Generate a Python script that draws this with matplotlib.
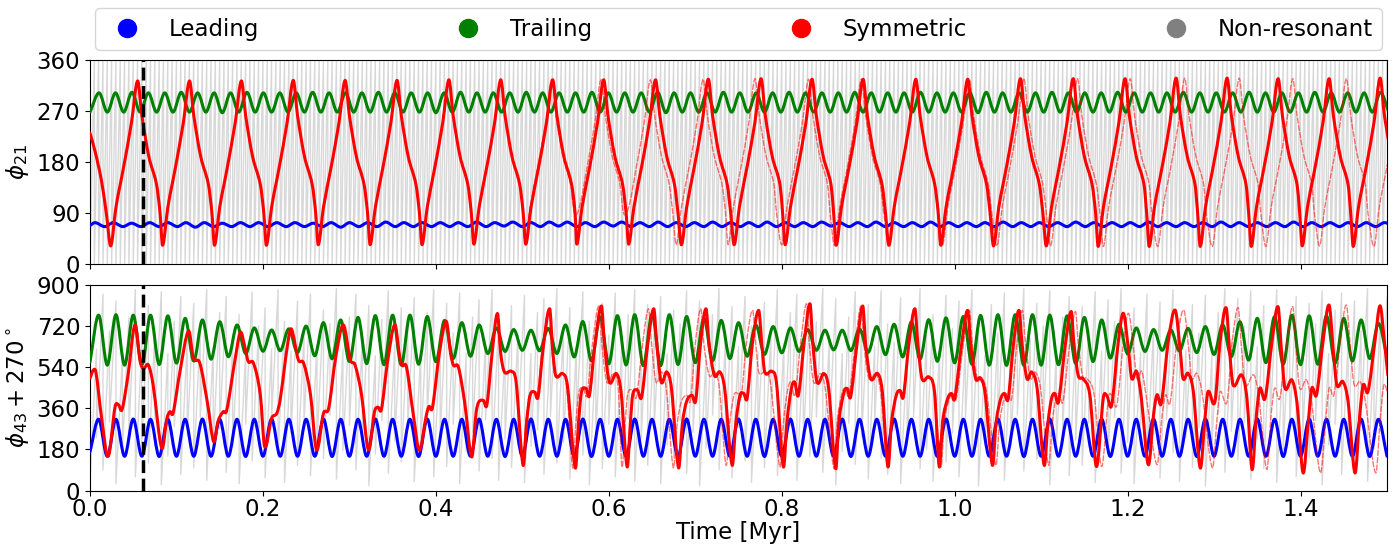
import numpy as np
import matplotlib.pyplot as plt
from matplotlib.lines import Line2D
from matplotlib.path import Path
from matplotlib.patches import PathPatch

plt.rcParams['font.size'] = 16.5

# ------------------------------------------------------------------
# phi_21 panel
# ------------------------------------------------------------------
# leading (blue): turning points of the small libration around ~70 deg
blue_top_t = [0.000, 0.006, 0.017, 0.027, 0.038, 0.048, 0.059, 0.069, 0.080, 0.090, 0.101, 0.111, 0.122, 0.132, 0.143,
              0.153, 0.164, 0.174, 0.185, 0.195, 0.206, 0.216, 0.227, 0.237, 0.248, 0.258, 0.269, 0.279, 0.290, 0.300,
              0.311, 0.321, 0.332, 0.342, 0.353, 0.363, 0.374, 0.384, 0.395, 0.405, 0.416, 0.426, 0.437, 0.447, 0.458,
              0.468, 0.479, 0.489, 0.500, 0.510, 0.521, 0.531, 0.542, 0.552, 0.563, 0.573, 0.584, 0.594, 0.605, 0.615,
              0.626, 0.636, 0.647, 0.657, 0.668, 0.678, 0.689, 0.699, 0.710, 0.720, 0.731, 0.741, 0.752, 0.762, 0.773,
              0.783, 0.794, 0.804, 0.815, 0.825, 0.836, 0.846, 0.857, 0.867, 0.878, 0.888, 0.899, 0.909, 0.920, 0.930,
              0.941, 0.951, 0.962, 0.972, 0.983, 0.993, 1.004, 1.014, 1.025, 1.035, 1.046, 1.056, 1.067, 1.077, 1.088,
              1.098, 1.109, 1.119, 1.130, 1.140, 1.151, 1.161, 1.172, 1.182, 1.193, 1.203, 1.214, 1.224, 1.235, 1.245,
              1.256, 1.266, 1.277, 1.287, 1.298, 1.308, 1.319, 1.329, 1.340, 1.350, 1.361, 1.371, 1.382, 1.392, 1.403,
              1.413, 1.424, 1.434, 1.445, 1.455, 1.466, 1.476, 1.487, 1.497, 1.508]
blue_top_v = [68,
              73, 66, 73, 66, 72, 66, 73, 66, 73, 66, 73, 65, 73, 66, 72, 66, 73, 66, 73, 66,
              73, 66, 73, 66, 72, 66, 73, 65, 73, 66, 73, 66, 74, 66, 73, 66, 73, 66, 73, 66,
              73, 66, 74, 66, 73, 67, 74, 66, 73, 66, 74, 67, 74, 66, 73, 66, 74, 67, 74, 66,
              73, 66, 74, 66, 73, 66, 73, 66, 74, 66, 73, 66, 73, 66, 74, 66, 73, 66, 73, 66,
              74, 67, 73, 66, 73, 66, 74, 66, 73, 66, 73, 66, 74, 66, 73, 66, 73, 66, 73, 66,
              74, 66, 73, 66, 73, 66, 73, 66, 74, 66, 73, 66, 73, 66, 73, 66, 74, 66, 73, 66,
              73, 66, 73, 66, 74, 66, 73, 66, 73, 66, 73, 66, 74, 66, 73, 66, 73, 66, 73, 66,
              73, 66, 73, 66]

# trailing (green): alternating trough / peak times
green_top_t = [0.000, 0.0105, 0.020, 0.0295, 0.039, 0.0485, 0.058, 0.0675, 0.077, 0.0865, 0.096, 0.1055, 0.115,
               0.1245, 0.134, 0.1435, 0.153, 0.1625, 0.172, 0.1815, 0.191, 0.2005, 0.210, 0.2195, 0.229, 0.2385, 0.248,
               0.2575, 0.267, 0.2765, 0.286, 0.2955, 0.305, 0.3145, 0.324, 0.3335, 0.343, 0.3525, 0.362, 0.3715, 0.381,
               0.3905, 0.400, 0.4095, 0.419, 0.4285, 0.438, 0.4475, 0.457, 0.4665, 0.476, 0.4855, 0.495, 0.5045, 0.514,
               0.5235, 0.533, 0.5425, 0.552, 0.5615, 0.571, 0.5805, 0.590, 0.5995, 0.609, 0.6185, 0.628, 0.6375, 0.647,
               0.6565, 0.666, 0.6755, 0.685, 0.6945, 0.704, 0.7135, 0.723, 0.7325, 0.742, 0.7515, 0.761, 0.7705, 0.780,
               0.7895, 0.799, 0.8085, 0.818, 0.8275, 0.837, 0.8465, 0.856, 0.8655, 0.875, 0.8845, 0.894, 0.9035, 0.913,
               0.9225, 0.932, 0.9415, 0.951, 0.9605, 0.970, 0.9795, 0.989, 0.9985, 1.008, 1.0175, 1.027, 1.0365, 1.046,
               1.0555, 1.065, 1.0745, 1.084, 1.0935, 1.103, 1.1125, 1.122, 1.1315, 1.141, 1.1505, 1.160, 1.1695, 1.179,
               1.1885, 1.198, 1.2075, 1.217, 1.2265, 1.236, 1.2455, 1.255, 1.2645, 1.274, 1.2835, 1.293, 1.3025, 1.312,
               1.3215, 1.331, 1.3405, 1.350, 1.3595, 1.369, 1.3785, 1.388, 1.3975, 1.407, 1.4165, 1.426, 1.4355, 1.445,
               1.4545, 1.464, 1.4735, 1.483, 1.4925, 1.502]
green_top_v = [268, 302, 268, 302, 268, 303, 268, 302, 268, 302, 268, 303, 268, 302, 268, 302, 267, 302, 268, 303,
               268, 302, 268, 302, 268, 302, 268, 303, 268, 302, 268, 302, 268, 302, 268, 303, 268, 302, 268, 302,
               268, 302, 267, 302, 268, 303, 268, 302, 268, 302, 268, 302, 268, 303, 268, 302, 268, 302, 268, 302,
               268, 303, 268, 302, 268, 302, 268, 302, 268, 303, 267, 302, 268, 302, 268, 302, 268, 303, 268, 302,
               268, 302, 268, 302, 268, 303, 268, 302, 268, 302, 268, 302, 268, 303, 268, 302, 268, 302, 268, 302,
               268, 303, 268, 302, 268, 302, 268, 302, 267, 303, 268, 302, 268, 302, 268, 302, 268, 303, 268, 302,
               268, 302, 268, 302, 268, 303, 268, 302, 268, 302, 268, 302, 268, 303, 268, 302, 268, 302, 268, 302,
               268, 303, 268, 302, 268, 302, 268, 302, 268, 303, 268, 302, 268, 302, 268, 302, 268, 303, 268]

# symmetric (red): knots of each libration cycle, (time, phi21)
red_top_rows = [
    [(0.000, 231), (0.006, 198), (0.0135, 145), (0.019, 88)],
    [(0.024, 32), (0.030, 100), (0.039, 172), (0.048, 250), (0.055, 323), (0.060, 262), (0.068, 190), (0.077, 140), (0.081, 90)],
    [(0.084, 33), (0.090, 100), (0.099, 172), (0.108, 250), (0.115, 323), (0.120, 262), (0.128, 190), (0.137, 140), (0.141, 90)],
    [(0.144, 33), (0.150, 100), (0.159, 172), (0.168, 250), (0.175, 323), (0.180, 262), (0.188, 190), (0.197, 140), (0.201, 90)],
    [(0.204, 33), (0.210, 100), (0.219, 172), (0.228, 250), (0.235, 324), (0.240, 262), (0.248, 190), (0.257, 140), (0.261, 90)],
    [(0.264, 34), (0.270, 100), (0.279, 172), (0.288, 250), (0.295, 324), (0.300, 262), (0.308, 190), (0.317, 140), (0.321, 90)],
    [(0.324, 34), (0.330, 100), (0.339, 172), (0.348, 250), (0.355, 324), (0.360, 262), (0.368, 190), (0.377, 140), (0.381, 90)],
    [(0.384, 34), (0.390, 100), (0.399, 172), (0.408, 250), (0.415, 325), (0.420, 262), (0.428, 190), (0.437, 140), (0.441, 90)],
    [(0.444, 35), (0.450, 100), (0.459, 172), (0.468, 250), (0.475, 325), (0.480, 262), (0.488, 190), (0.497, 140), (0.501, 90)],
    [(0.504, 35), (0.510, 100), (0.519, 172), (0.528, 250), (0.535, 325), (0.540, 262), (0.548, 190), (0.557, 140), (0.561, 90)],
    [(0.563, 35), (0.569, 100), (0.578, 172), (0.587, 250), (0.594, 325), (0.599, 262), (0.607, 190), (0.616, 140), (0.620, 90)],
    [(0.623, 35), (0.629, 100), (0.638, 172), (0.647, 250), (0.654, 325), (0.659, 262), (0.667, 190), (0.676, 140), (0.680, 90)],
    [(0.684, 34), (0.690, 100), (0.699, 172), (0.708, 250), (0.715, 326), (0.720, 262), (0.728, 190), (0.737, 140), (0.741, 90)],
    [(0.745, 34), (0.751, 100), (0.760, 172), (0.769, 250), (0.776, 327), (0.781, 262), (0.789, 190), (0.798, 140), (0.801, 90)],
    [(0.804, 34), (0.810, 100), (0.819, 172), (0.828, 250), (0.835, 326), (0.840, 262), (0.848, 190), (0.857, 140), (0.860, 90)],
    [(0.863, 33), (0.869, 100), (0.878, 172), (0.887, 250), (0.894, 326), (0.899, 262), (0.907, 190), (0.916, 140), (0.920, 90)],
    [(0.924, 33), (0.930, 100), (0.939, 172), (0.948, 250), (0.955, 326), (0.960, 262), (0.968, 190), (0.977, 140), (0.981, 90)],
    [(0.984, 33), (0.990, 100), (0.999, 172), (1.008, 250), (1.015, 326), (1.020, 262), (1.028, 190), (1.037, 140), (1.041, 90)],
    [(1.045, 32), (1.051, 100), (1.060, 172), (1.069, 250), (1.076, 327), (1.081, 262), (1.089, 190), (1.098, 140), (1.102, 90)],
    [(1.106, 32), (1.112, 100), (1.121, 172), (1.130, 250), (1.137, 327), (1.142, 262), (1.150, 190), (1.159, 140), (1.163, 90)],
    [(1.166, 31), (1.172, 100), (1.181, 172), (1.190, 250), (1.197, 327), (1.202, 262), (1.210, 190), (1.219, 140), (1.222, 90)],
    [(1.225, 31), (1.231, 100), (1.240, 172), (1.249, 250), (1.256, 328), (1.261, 262), (1.269, 190), (1.278, 140), (1.281, 90)],
    [(1.284, 31), (1.290, 100), (1.299, 172), (1.308, 250), (1.315, 328), (1.320, 262), (1.328, 190), (1.337, 140), (1.340, 90)],
    [(1.343, 31), (1.349, 100), (1.358, 172), (1.367, 250), (1.374, 327), (1.379, 262), (1.387, 190), (1.396, 140), (1.399, 90)],
    [(1.402, 32), (1.408, 100), (1.417, 172), (1.426, 250), (1.433, 327), (1.438, 262), (1.446, 190), (1.455, 140), (1.458, 90)],
    [(1.461, 31), (1.467, 100), (1.476, 172), (1.485, 250), (1.492, 328), (1.497, 262), (1.505, 190)],
]

# drift of the dashed (comparison) run relative to the solid one, per cycle [Myr]
red_dash_shift = [0, 0, 0, 0, 0, 0, 0, 0, 0, -0.001, -0.003, -0.006, -0.006, -0.007, -0.004, -0.002,
                  0, 0.002, 0.004, 0.005, 0.006, 0.010, 0.014, 0.017, 0.020, 0.024]

# non-resonant (gray): times at which phi21 wraps from 360 back to 0
gray_top_range = [0, 360]
gray_top_wrap_t = [
    0.000, 0.005, 0.010, 0.015, 0.020, 0.025, 0.030, 0.035, 0.040, 0.045, 0.050, 0.055, 0.060, 0.065, 0.070, 0.075, 0.080, 0.085, 0.090, 0.095,
    0.100, 0.105, 0.110, 0.115, 0.120, 0.125, 0.130, 0.135, 0.140, 0.145, 0.150, 0.155, 0.160, 0.165, 0.170, 0.175, 0.180, 0.185, 0.190, 0.195,
    0.200, 0.205, 0.210, 0.215, 0.220, 0.225, 0.230, 0.235, 0.240, 0.245, 0.250, 0.255, 0.260, 0.265, 0.270, 0.275, 0.280, 0.285, 0.290, 0.295,
    0.300, 0.305, 0.310, 0.315, 0.320, 0.325, 0.330, 0.335, 0.340, 0.345, 0.350, 0.355, 0.360, 0.365, 0.370, 0.375, 0.380, 0.385, 0.390, 0.395,
    0.400, 0.405, 0.410, 0.415, 0.420, 0.425, 0.430, 0.435, 0.440, 0.445, 0.450, 0.455, 0.460, 0.465, 0.470, 0.475, 0.480, 0.485, 0.490, 0.495,
    0.500, 0.505, 0.510, 0.515, 0.520, 0.525, 0.530, 0.535, 0.540, 0.545, 0.550, 0.555, 0.560, 0.565, 0.570, 0.575, 0.580, 0.585, 0.590, 0.595,
    0.600, 0.605, 0.610, 0.615, 0.620, 0.625, 0.630, 0.635, 0.640, 0.645, 0.650, 0.655, 0.660, 0.665, 0.670, 0.675, 0.680, 0.685, 0.690, 0.695,
    0.700, 0.705, 0.710, 0.715, 0.720, 0.725, 0.730, 0.735, 0.740, 0.745, 0.750, 0.755, 0.760, 0.765, 0.770, 0.775, 0.780, 0.785, 0.790, 0.795,
    0.800, 0.805, 0.810, 0.815, 0.820, 0.825, 0.830, 0.835, 0.840, 0.845, 0.850, 0.855, 0.860, 0.865, 0.870, 0.875, 0.880, 0.885, 0.890, 0.895,
    0.900, 0.905, 0.910, 0.915, 0.920, 0.925, 0.930, 0.935, 0.940, 0.945, 0.950, 0.955, 0.960, 0.965, 0.970, 0.975, 0.980, 0.985, 0.990, 0.995,
    1.000, 1.005, 1.010, 1.015, 1.020, 1.025, 1.030, 1.035, 1.040, 1.045, 1.050, 1.055, 1.060, 1.065, 1.070, 1.075, 1.080, 1.085, 1.090, 1.095,
    1.100, 1.105, 1.110, 1.115, 1.120, 1.125, 1.130, 1.135, 1.140, 1.145, 1.150, 1.155, 1.160, 1.165, 1.170, 1.175, 1.180, 1.185, 1.190, 1.195,
    1.200, 1.205, 1.210, 1.215, 1.220, 1.225, 1.230, 1.235, 1.240, 1.245, 1.250, 1.255, 1.260, 1.265, 1.270, 1.275, 1.280, 1.285, 1.290, 1.295,
    1.300, 1.305, 1.310, 1.315, 1.320, 1.325, 1.330, 1.335, 1.340, 1.345, 1.350, 1.355, 1.360, 1.365, 1.370, 1.375, 1.380, 1.385, 1.390, 1.395,
    1.400, 1.405, 1.410, 1.415, 1.420, 1.425, 1.430, 1.435, 1.440, 1.445, 1.450, 1.455, 1.460, 1.465, 1.470, 1.475, 1.480, 1.485, 1.490, 1.495,
    1.500]

# ------------------------------------------------------------------
# phi_43 + 270 panel
# ------------------------------------------------------------------
# turning points shared by leading and trailing (every 0.01 Myr)
osc_bot_t = [
    0.00, 0.01, 0.02, 0.03, 0.04, 0.05, 0.06, 0.07, 0.08, 0.09, 0.10, 0.11, 0.12, 0.13, 0.14, 0.15, 0.16, 0.17, 0.18, 0.19,
    0.20, 0.21, 0.22, 0.23, 0.24, 0.25, 0.26, 0.27, 0.28, 0.29, 0.30, 0.31, 0.32, 0.33, 0.34, 0.35, 0.36, 0.37, 0.38, 0.39,
    0.40, 0.41, 0.42, 0.43, 0.44, 0.45, 0.46, 0.47, 0.48, 0.49, 0.50, 0.51, 0.52, 0.53, 0.54, 0.55, 0.56, 0.57, 0.58, 0.59,
    0.60, 0.61, 0.62, 0.63, 0.64, 0.65, 0.66, 0.67, 0.68, 0.69, 0.70, 0.71, 0.72, 0.73, 0.74, 0.75, 0.76, 0.77, 0.78, 0.79,
    0.80, 0.81, 0.82, 0.83, 0.84, 0.85, 0.86, 0.87, 0.88, 0.89, 0.90, 0.91, 0.92, 0.93, 0.94, 0.95, 0.96, 0.97, 0.98, 0.99,
    1.00, 1.01, 1.02, 1.03, 1.04, 1.05, 1.06, 1.07, 1.08, 1.09, 1.10, 1.11, 1.12, 1.13, 1.14, 1.15, 1.16, 1.17, 1.18, 1.19,
    1.20, 1.21, 1.22, 1.23, 1.24, 1.25, 1.26, 1.27, 1.28, 1.29, 1.30, 1.31, 1.32, 1.33, 1.34, 1.35, 1.36, 1.37, 1.38, 1.39,
    1.40, 1.41, 1.42, 1.43, 1.44, 1.45, 1.46, 1.47, 1.48, 1.49, 1.50]

blue_bot_v = [
    170, 312, 150, 312, 150, 313, 150, 312, 149, 312, 150, 312, 150, 313, 150, 312, 150, 312, 149, 312,
    150, 313, 150, 312, 150, 312, 150, 313, 149, 312, 150, 312, 150, 313, 150, 312, 150, 312, 149, 313,
    150, 312, 150, 312, 150, 313, 150, 312, 149, 312, 150, 313, 150, 312, 150, 312, 150, 313, 149, 312,
    150, 312, 150, 313, 150, 312, 150, 312, 149, 313, 150, 312, 150, 312, 150, 313, 150, 312, 149, 312,
    150, 313, 150, 312, 150, 312, 150, 313, 149, 312, 150, 312, 150, 313, 150, 312, 150, 312, 149, 313,
    150, 312, 150, 312, 150, 313, 150, 312, 149, 312, 150, 313, 150, 312, 150, 312, 150, 313, 149, 312,
    150, 312, 150, 313, 150, 312, 150, 312, 149, 313, 150, 312, 150, 312, 150, 313, 150, 312, 149, 312,
    150, 313, 150, 312, 150, 312, 150, 313, 149, 312, 150]

# trailing (green) peaks (at 0.01, 0.03, ...) and troughs (at 0.00, 0.02, ...)
green_bot_peak_v = [768, 770, 768, 768, 765, 754, 747, 739, 725, 712,
                    703, 708, 720, 735, 747, 758, 766, 768, 768, 762,
                    745, 735, 725, 712, 705, 702, 710, 725, 740, 760,
                    766, 770, 772, 770, 762, 754, 745, 735, 725, 718,
                    712, 705, 702, 702, 708, 718, 728, 738, 748, 756,
                    762, 767, 770, 770, 770, 768, 765, 758, 747, 728,
                    712, 705, 703, 710, 718, 725, 739, 754, 761, 768,
                    765, 765, 754, 747, 732]
green_bot_trough_v = [562, 549, 549, 550, 552, 558, 567, 575, 586, 600,
                      610, 612, 604, 590, 577, 565, 556, 551, 550, 553,
                      564, 578, 588, 600, 609, 614, 612, 600, 585, 568,
                      555, 550, 547, 547, 552, 560, 568, 578, 588, 596,
                      603, 609, 614, 616, 613, 605, 595, 585, 575, 566,
                      559, 553, 549, 548, 548, 549, 551, 556, 565, 580,
                      598, 609, 614, 611, 604, 596, 586, 571, 560, 553,
                      551, 553, 558, 567, 578, 586]

# symmetric (red): knots of each libration cycle, (time, phi43 + 270)
red_bot_rows = [
    [(0.000, 492), (0.004, 528), (0.007, 515), (0.013, 330)],
    [(0.021, 150), (0.029, 367), (0.033, 375), (0.037, 354), (0.044, 506), (0.052, 725), (0.058, 565), (0.062, 535), (0.0675, 550), (0.073, 462)],
    [(0.083, 185), (0.089, 316), (0.0925, 345), (0.096, 338), (0.104, 520), (0.114, 699), (0.1195, 580), (0.127, 558), (0.136, 380)],
    [(0.143, 214), (0.148, 302), (0.154, 345), (0.158, 350), (0.168, 579), (0.174, 693), (0.179, 630), (0.183, 565), (0.189, 558), (0.197, 419)],
    [(0.202, 192), (0.210, 316), (0.216, 338), (0.220, 400), (0.229, 652), (0.233, 707), (0.241, 572), (0.247, 558), (0.255, 420)],
    [(0.262, 178), (0.270, 338), (0.276, 360), (0.284, 579), (0.293, 725), (0.301, 572), (0.3065, 550), (0.314, 420)],
    [(0.322, 178), (0.329, 345), (0.333, 365), (0.337, 355), (0.344, 560), (0.3525, 726), (0.358, 590), (0.361, 548), (0.366, 541), (0.374, 330)],
    [(0.381, 176), (0.389, 330), (0.392, 368), (0.396, 362), (0.404, 600), (0.412, 741), (0.417, 600), (0.4205, 548), (0.426, 541), (0.4335, 380)],
    [(0.4415, 147), (0.4465, 340), (0.4497, 388), (0.4551, 394), (0.459, 375), (0.465, 600), (0.4712, 775), (0.475, 600), (0.4793, 519), (0.4874, 522), (0.4928, 475)],
    [(0.5009, 111), (0.505, 300), (0.509, 417), (0.5144, 431), (0.5182, 410), (0.524, 620), (0.5316, 796), (0.535, 620), (0.5386, 504), (0.5467, 512), (0.5521, 460)],
    [(0.5613, 99), (0.565, 300), (0.5684, 431), (0.5738, 446), (0.5776, 417), (0.584, 640), (0.5915, 808), (0.595, 640), (0.6007, 475), (0.6088, 512), (0.6142, 431)],
    [(0.6212, 104), (0.625, 300), (0.6277, 420), (0.633, 440), (0.638, 410), (0.645, 640), (0.652, 796), (0.6555, 640), (0.6606, 475), (0.667, 519), (0.6725, 446)],
    [(0.6806, 100), (0.685, 290), (0.6898, 388), (0.6962, 417), (0.7006, 395), (0.706, 640), (0.7124, 796), (0.716, 640), (0.7221, 504), (0.7286, 519), (0.734, 446)],
    [(0.7426, 111), (0.747, 300), (0.7518, 417), (0.7561, 425), (0.760, 405), (0.766, 640), (0.7733, 789), (0.777, 640), (0.7803, 519), (0.7884, 522), (0.7938, 475)],
    [(0.8019, 104), (0.806, 300), (0.8111, 446), (0.8149, 475), (0.8192, 417), (0.826, 650), (0.8327, 818), (0.836, 640), (0.8408, 475), (0.8489, 512), (0.8543, 446)],
    [(0.8624, 96), (0.866, 300), (0.8721, 431), (0.8759, 446), (0.8797, 410), (0.887, 640), (0.8937, 808), (0.897, 640), (0.9029, 490), (0.911, 512), (0.9164, 431)],
    [(0.9228, 104), (0.927, 300), (0.9325, 417), (0.9368, 438), (0.9406, 410), (0.947, 640), (0.954, 796), (0.9575, 640), (0.9622, 490), (0.9702, 497), (0.9767, 431)],
    [(0.9822, 104), (0.986, 300), (0.9919, 402), (0.9962, 425), (1.000, 402), (1.008, 640), (1.015, 789), (1.0185, 640), (1.0242, 490), (1.0296, 493), (1.035, 431)],
    [(1.0437, 111), (1.048, 300), (1.0533, 402), (1.0576, 425), (1.0619, 402), (1.068, 640), (1.0744, 789), (1.078, 640), (1.0836, 490), (1.089, 519), (1.0954, 446)],
    [(1.1035, 111), (1.108, 300), (1.112, 402), (1.1158, 425), (1.1201, 388), (1.128, 640), (1.1348, 784), (1.138, 640), (1.1429, 504), (1.1483, 490), (1.1564, 417)],
    [(1.164, 105), (1.1719, 405), (1.176, 415), (1.1816, 374), (1.1893, 653), (1.1951, 776), (1.2008, 623), (1.2047, 491), (1.2105, 521), (1.216, 400)],
    [(1.224, 113), (1.230, 332), (1.234, 419), (1.239, 382), (1.247, 652), (1.255, 790), (1.261, 608), (1.264, 491), (1.270, 513), (1.276, 433)],
    [(1.284, 99), (1.2895, 317), (1.293, 433), (1.301, 389), (1.307, 652), (1.314, 800), (1.318, 608), (1.322, 462), (1.332, 506), (1.338, 404)],
    [(1.344, 92), (1.349, 332), (1.353, 448), (1.359, 404), (1.367, 652), (1.374, 805), (1.378, 608), (1.382, 448), (1.390, 484), (1.396, 380)],
    [(1.403, 77), (1.409, 303), (1.413, 448), (1.4185, 419), (1.426, 652), (1.433, 812), (1.438, 608), (1.442, 462), (1.449, 477), (1.455, 389)],
    [(1.463, 77), (1.4685, 332), (1.4725, 462), (1.478, 433), (1.486, 652), (1.492, 809), (1.497, 652), (1.501, 506)],
]

# non-resonant (gray): start of each rise, and its low / high ends
gray_bot_t = [
    0.0000, 0.0075, 0.0150, 0.0225, 0.0300, 0.0375, 0.0450, 0.0525, 0.0600, 0.0675, 0.0750, 0.0825, 0.0900, 0.0975, 0.1050, 0.1125, 0.1200, 0.1275, 0.1350, 0.1425,
    0.1500, 0.1575, 0.1650, 0.1725, 0.1800, 0.1875, 0.1950, 0.2025, 0.2100, 0.2175, 0.2250, 0.2325, 0.2400, 0.2475, 0.2550, 0.2625, 0.2700, 0.2775, 0.2850, 0.2925,
    0.3000, 0.3075, 0.3150, 0.3225, 0.3300, 0.3375, 0.3450, 0.3525, 0.3600, 0.3675, 0.3750, 0.3825, 0.3900, 0.3975, 0.4050, 0.4125, 0.4200, 0.4275, 0.4350, 0.4425,
    0.4500, 0.4575, 0.4650, 0.4725, 0.4800, 0.4875, 0.4950, 0.5025, 0.5100, 0.5175, 0.5250, 0.5325, 0.5400, 0.5475, 0.5550, 0.5625, 0.5700, 0.5775, 0.5850, 0.5925,
    0.6000, 0.6075, 0.6150, 0.6225, 0.6300, 0.6375, 0.6450, 0.6525, 0.6600, 0.6675, 0.6750, 0.6825, 0.6900, 0.6975, 0.7050, 0.7125, 0.7200, 0.7275, 0.7350, 0.7425,
    0.7500, 0.7575, 0.7650, 0.7725, 0.7800, 0.7875, 0.7950, 0.8025, 0.8100, 0.8175, 0.8250, 0.8325, 0.8400, 0.8475, 0.8550, 0.8625, 0.8700, 0.8775, 0.8850, 0.8925,
    0.9000, 0.9075, 0.9150, 0.9225, 0.9300, 0.9375, 0.9450, 0.9525, 0.9600, 0.9675, 0.9750, 0.9825, 0.9900, 0.9975, 1.0050, 1.0125, 1.0200, 1.0275, 1.0350, 1.0425,
    1.0500, 1.0575, 1.0650, 1.0725, 1.0800, 1.0875, 1.0950, 1.1025, 1.1100, 1.1175, 1.1250, 1.1325, 1.1400, 1.1475, 1.1550, 1.1625, 1.1700, 1.1775, 1.1850, 1.1925,
    1.2000, 1.2075, 1.2150, 1.2225, 1.2300, 1.2375, 1.2450, 1.2525, 1.2600, 1.2675, 1.2750, 1.2825, 1.2900, 1.2975, 1.3050, 1.3125, 1.3200, 1.3275, 1.3350, 1.3425,
    1.3500, 1.3575, 1.3650, 1.3725, 1.3800, 1.3875, 1.3950, 1.4025, 1.4100, 1.4175, 1.4250, 1.4325, 1.4400, 1.4475, 1.4550, 1.4625, 1.4700, 1.4775, 1.4850, 1.4925,
    1.5000]
gray_bot_lo = [
    40, 230, 90, 300, 30, 180, 260, 60, 210, 120, 310, 25, 150, 280, 70, 240, 100, 320, 45, 200,
    270, 80, 190, 30, 290, 130, 220, 55, 315, 160, 35, 250, 110, 295, 65, 205, 140, 330, 50, 175,
    285, 90, 235, 20, 160, 305, 75, 215, 125, 275, 40, 190, 320, 60, 245, 105, 290, 30, 170, 255,
    85, 310, 140, 45, 225, 100, 280, 35, 195, 265, 70, 325, 120, 210, 50, 300, 155, 25, 240, 95,
    290, 60, 180, 315, 40, 230, 110, 270, 30, 200, 145, 305, 75, 255, 20, 185, 330, 90, 220, 55,
    275, 130, 35, 245, 100, 310, 65, 190, 285, 45, 215, 150, 320, 80, 260, 25, 170, 295, 115, 235,
    50, 300, 140, 70, 265, 30, 205, 325, 95, 180, 40, 280, 125, 250, 60, 315, 160, 20, 230, 105,
    290, 45, 195, 330, 85, 240, 135, 305, 25, 175, 270, 65, 220, 110, 295, 35, 255, 150, 320, 75,
    210, 30, 285, 120, 245, 55, 310, 165, 40, 230, 100, 275, 20, 190, 335, 80, 260, 135, 300, 50,
    225, 95, 315, 35, 180, 270, 60, 240, 145, 305, 25, 200, 290, 70, 250, 115, 325, 40, 185, 260]
gray_bot_hi = [
    620, 860, 700, 830, 590, 760, 880, 640, 810, 690, 870, 600, 740, 850, 660, 820, 700, 880, 630, 780,
    850, 650, 770, 600, 870, 720, 800, 620, 880, 740, 610, 830, 690, 860, 640, 790, 730, 885, 620, 760,
    860, 670, 810, 590, 750, 875, 640, 800, 710, 845, 610, 780, 880, 650, 820, 690, 865, 600, 760, 835,
    660, 880, 730, 620, 810, 690, 855, 600, 780, 840, 650, 885, 710, 800, 630, 870, 740, 600, 820, 680,
    865, 640, 770, 880, 610, 815, 700, 850, 600, 790, 730, 875, 650, 830, 590, 770, 885, 670, 805, 630,
    850, 720, 610, 825, 690, 880, 645, 780, 860, 620, 800, 740, 885, 660, 840, 600, 760, 870, 700, 815,
    630, 875, 730, 650, 845, 600, 795, 885, 680, 770, 615, 855, 710, 830, 640, 880, 750, 590, 815, 690,
    865, 625, 785, 885, 665, 820, 720, 875, 600, 760, 850, 645, 805, 700, 870, 610, 835, 740, 885, 655,
    800, 605, 860, 710, 825, 635, 880, 755, 615, 815, 690, 855, 595, 780, 885, 660, 840, 720, 875, 630,
    810, 680, 880, 610, 770, 850, 640, 820, 730, 875, 600, 790, 865, 650, 830, 700, 885, 620, 775, 845]

event_t = 0.061
labels = ['Leading', 'Trailing', 'Symmetric', 'Non-resonant']
colors = ['blue', 'green', 'red', 'gray']


def flatten(rows, shift=None):
    t, v = [], []
    for i, row in enumerate(rows):
        dt = 0 if shift is None else shift[i]
        for a, b in row:
            t.append(a + dt)
            v.append(b)
    return np.array(t), np.array(v)


def sawtooth(times, lo, hi):
    # rise from lo[i] at times[i] to hi[i] at times[i+1], then drop
    x = np.repeat(np.asarray(times), 2)[1:-1]
    y = np.empty(len(x))
    y[0::2] = lo
    y[1::2] = hi
    return x, y


def smooth_line(ax, x, y, **kw):
    # draw a smooth bezier path through the knots (x, y)
    x = np.asarray(x, float)
    y = np.asarray(y, float)
    keep = np.r_[True, np.diff(x) > 0]
    x, y = x[keep], y[keep]
    m = np.empty_like(y)
    m[1:-1] = (y[2:] - y[:-2]) / (x[2:] - x[:-2])
    m[0] = (y[1] - y[0]) / (x[1] - x[0])
    m[-1] = (y[-1] - y[-2]) / (x[-1] - x[-2])
    h = np.diff(x) / 3
    verts = [(x[0], y[0])]
    for i in range(len(x) - 1):
        verts += [(x[i] + h[i], y[i] + m[i] * h[i]),
                  (x[i + 1] - h[i], y[i + 1] - m[i + 1] * h[i]),
                  (x[i + 1], y[i + 1])]
    codes = [Path.MOVETO] + [Path.CURVE4] * (3 * (len(x) - 1))
    ax.add_patch(PathPatch(Path(verts, codes), fill=False, capstyle='round', joinstyle='round', **kw))


fig = plt.figure(figsize=(13.95, 5.46), dpi=100)
ax1 = fig.add_axes([90 / 1395, 1 - 264 / 546, 1297 / 1395, 204 / 546])
ax2 = fig.add_axes([90 / 1395, 1 - 490.5 / 546, 1297 / 1395, 205.5 / 546], sharex=ax1)

# top panel
n = len(gray_top_wrap_t) - 1
gx, gy = sawtooth(gray_top_wrap_t, [gray_top_range[0]] * n, [gray_top_range[1]] * n)
ax1.plot(gx, gy, color='gray', alpha=0.3, lw=1, zorder=1)
smooth_line(ax1, blue_top_t, blue_top_v, edgecolor='blue', lw=2.2, zorder=3)
smooth_line(ax1, green_top_t, green_top_v, edgecolor='green', lw=2.2, zorder=3)
td, vd = flatten(red_top_rows, red_dash_shift)
smooth_line(ax1, td, vd, edgecolor='red', alpha=0.55, lw=1, ls='--', zorder=4)
ts, vs = flatten(red_top_rows)
smooth_line(ax1, ts, vs, edgecolor='red', lw=2.2, zorder=5)
ax1.axvline(event_t, color='k', ls='--', lw=2.5, zorder=6)

ax1.set_ylim(0, 360)
ax1.set_yticks([0, 90, 180, 270, 360])
ax1.set_ylabel(r'$\phi_{21}$')
ax1.tick_params(labelbottom=False)

# bottom panel
gx, gy = sawtooth(gray_bot_t, gray_bot_lo, gray_bot_hi)
ax2.plot(gx, gy, color='gray', alpha=0.3, lw=1, zorder=1)
smooth_line(ax2, osc_bot_t, blue_bot_v, edgecolor='blue', lw=2.2, zorder=3)
green_bot_v = np.empty(len(osc_bot_t))
green_bot_v[0::2] = green_bot_trough_v
green_bot_v[1::2] = green_bot_peak_v
smooth_line(ax2, osc_bot_t, green_bot_v, edgecolor='green', lw=2.2, zorder=3)
td, vd = flatten(red_bot_rows, red_dash_shift)
smooth_line(ax2, td, vd, edgecolor='red', alpha=0.55, lw=1, ls='--', zorder=4)
ts, vs = flatten(red_bot_rows)
smooth_line(ax2, ts, vs, edgecolor='red', lw=2.2, zorder=5)
ax2.axvline(event_t, color='k', ls='--', lw=2.5, zorder=6)

ax2.set_ylim(0, 900)
ax2.set_yticks([0, 180, 360, 540, 720, 900])
ax2.set_ylabel(r'$\phi_{43} + 270^\circ$')
ax2.set_xlim(0, 1.5)
ax2.set_xticks([0.0, 0.2, 0.4, 0.6, 0.8, 1.0, 1.2, 1.4])
ax2.tick_params(axis='x', pad=2)
ax2.set_xlabel('Time [Myr]', labelpad=0)

handles = [Line2D([], [], ls='', marker='o', markersize=13, color=c) for c in colors]
ax1.legend(handles, labels, loc='lower left', bbox_to_anchor=(0.004, 1.05, 0.992, 0.2), mode='expand',
           ncol=4, borderaxespad=0)

plt.savefig('out.png', dpi=100)
